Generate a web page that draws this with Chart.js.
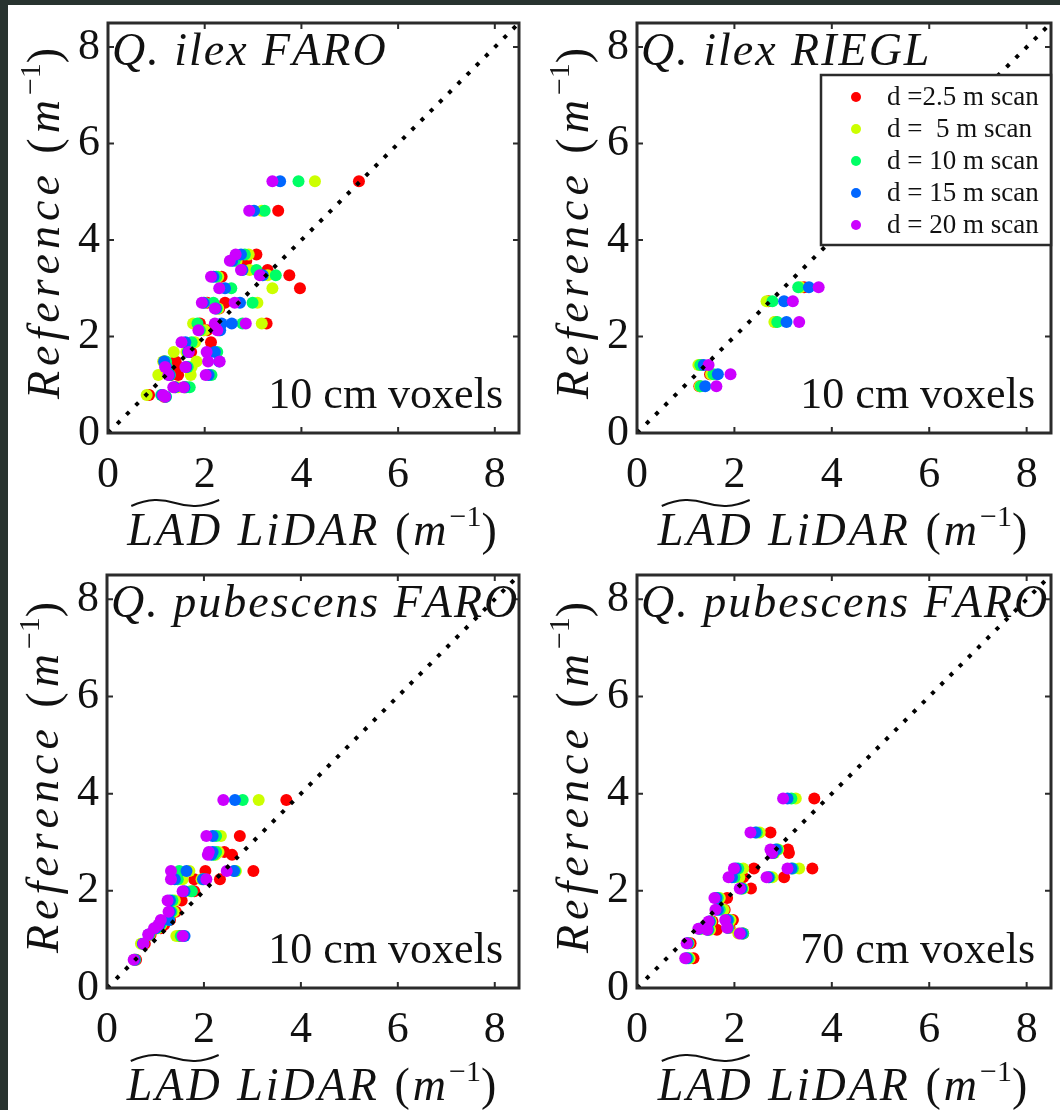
<!DOCTYPE html>
<html>
<head>
<meta charset="utf-8">
<title>LAD LiDAR vs reference</title>
<script src="https://cdn.jsdelivr.net/npm/chart.js@4.4.1/dist/chart.umd.min.js"></script>
<style>
  html, body { margin: 0; padding: 0; background: #fff; }
  body { width: 1060px; height: 1110px; position: relative; overflow: hidden; }
  .edge-left { position: absolute; left: 0; top: 0; width: 8px; height: 1110px; background: #28332f; }
  .edge-top { position: absolute; left: 0; top: 0; width: 1060px; height: 5px; background: #28332f; }
  canvas { position: absolute; }
</style>
</head>
<body>
<div class="edge-left"></div>
<div class="edge-top"></div>
<canvas id="ilexFaro" width="530" height="555" style="left:0;top:0"></canvas>
<canvas id="ilexRiegl" width="530" height="555" style="left:530px;top:0"></canvas>
<canvas id="pubFaro10" width="530" height="555" style="left:0;top:555px"></canvas>
<canvas id="pubFaro70" width="530" height="555" style="left:530px;top:555px"></canvas>

<script>
'use strict';

/* Data */

var tickValues = [0, 2, 4, 6, 8];
var axisMin = 0;
var axisMax = 8.5;
var oneToOne = [0, 8.5];

var scanLabels = ['d =2.5 m scan', 'd =  5 m scan', 'd = 10 m scan', 'd = 15 m scan', 'd = 20 m scan'];
var scanColors = ['#ff0000', '#ccff00', '#00ff66', '#0066ff', '#cc00ff'];

// Q. ilex FARO, 10 cm voxels
var ilexFaroRef = [5.22, 4.61, 3.70, 3.57, 3.38, 3.27, 3.24, 3.00, 2.70, 2.70, 2.58, 2.27, 2.27, 2.13, 2.13, 1.88, 1.68, 1.68, 1.48, 1.48, 1.37, 1.37, 1.20, 1.20, 0.95, 0.95, 0.79, 0.75];
var ilexFaroD2_5 = [5.19, 3.52, 3.07, 2.86, 3.30, 3.75, 2.35, 3.97, 2.42, 2.05, 2.30, 3.28, 1.90, 1.98, 2.05, 2.13, 1.72, 1.70, 1.40, 1.16, 1.45, 1.25, 1.45, 1.30, 1.40, 1.60, 0.85, 1.16];
var ilexFaroD5 = [4.28, 3.18, 2.91, 2.66, 2.93, 3.30, 2.28, 3.40, 3.09, 2.00, 2.28, 3.18, 1.76, 1.92, 2.00, 1.80, 1.36, 1.62, 1.83, 1.14, 1.73, 1.20, 1.71, 1.04, 1.45, 1.58, 0.80, 1.18];
var ilexFaroD10 = [3.94, 3.24, 2.83, 2.62, 3.07, 3.47, 2.24, 2.55, 2.99, 2.18, 2.25, 2.78, 1.85, 1.90, 2.28, 1.73, 2.26, 1.65, 1.20, 1.18, 1.65, 1.22, 2.14, 1.28, 1.69, 1.62, 1.10, 1.20];
var ilexFaroD15 = [3.56, 3.02, 2.75, 2.57, 2.78, 3.20, 2.18, 2.42, 2.73, 1.98, 2.23, 2.56, 2.35, 2.30, 2.32, 1.60, 2.21, 1.66, 2.30, 1.16, 1.62, 1.20, 2.08, 1.27, 1.38, 1.58, 1.12, 1.19];
var ilexFaroD20 = [3.40, 2.92, 2.64, 2.52, 2.75, 3.14, 2.13, 2.30, 2.62, 1.94, 2.21, 2.85, 2.21, 1.87, 2.26, 1.52, 2.04, 1.67, 2.31, 2.07, 1.60, 1.18, 2.02, 1.25, 1.35, 1.56, 1.14, 1.18];

// Q. ilex RIEGL, 10 cm voxels
var ilexRieglRef = [3.02, 2.73, 2.30, 1.41, 1.22, 0.97];
var ilexRieglD2_5 = [3.43, 2.70, 2.84, 1.30, 1.50, 1.28];
var ilexRieglD5 = [3.36, 2.66, 2.82, 1.26, 1.52, 1.29];
var ilexRieglD10 = [3.31, 2.78, 2.88, 1.30, 1.57, 1.31];
var ilexRieglD15 = [3.53, 3.02, 3.07, 1.37, 1.66, 1.40];
var ilexRieglD20 = [3.73, 3.20, 3.33, 1.47, 1.92, 1.63];

// Q. pubescens FARO, 10 cm voxels
var pubFaro10Ref = [3.87, 3.13, 2.80, 2.74, 2.41, 2.41, 2.24, 2.24, 1.99, 1.80, 1.57, 1.40, 1.30, 1.23, 1.10, 1.07, 0.91, 0.58];
var pubFaro10D2_5 = [3.70, 2.74, 2.42, 2.58, 3.02, 2.03, 2.33, 1.80, 1.80, 1.54, 1.42, 1.30, 1.18, 1.11, 0.90, 1.50, 0.78, 0.60];
var pubFaro10D5 = [3.13, 2.35, 2.30, 2.24, 2.66, 1.70, 1.56, 1.95, 1.72, 1.40, 1.38, 1.26, 1.12, 1.05, 0.88, 1.43, 0.70, 0.56];
var pubFaro10D10 = [2.80, 2.25, 2.25, 2.20, 2.64, 1.49, 1.46, 2.00, 1.75, 1.35, 1.33, 1.28, 1.10, 1.02, 0.87, 1.52, 0.75, 0.58];
var pubFaro10D15 = [2.64, 2.18, 2.18, 2.15, 2.62, 1.64, 1.40, 1.98, 1.60, 1.30, 1.30, 1.28, 1.08, 1.00, 0.86, 1.60, 0.74, 0.57];
var pubFaro10D20 = [2.40, 2.05, 2.10, 2.08, 2.47, 1.32, 1.32, 2.05, 1.56, 1.25, 1.27, 1.11, 1.06, 0.97, 0.85, 1.56, 0.75, 0.55];

// Q. pubescens FARO, 70 cm voxels
var pubFaro70Ref = [3.90, 3.20, 2.85, 2.78, 2.46, 2.46, 2.28, 2.28, 2.05, 1.85, 1.61, 1.40, 1.37, 1.24, 1.22, 1.20, 1.12, 0.92, 0.61];
var pubFaro70D2_5 = [3.64, 2.74, 3.10, 3.12, 3.60, 2.40, 2.18, 3.02, 2.34, 1.85, 1.80, 1.97, 1.55, 1.90, 1.40, 1.64, 2.18, 1.10, 1.16];
var pubFaro70D5 = [3.26, 2.52, 2.90, 2.82, 3.33, 2.18, 2.10, 2.78, 2.18, 1.70, 1.78, 1.92, 1.52, 1.88, 1.32, 1.50, 2.08, 1.06, 1.08];
var pubFaro70D10 = [3.17, 2.46, 2.88, 2.80, 3.20, 2.08, 2.00, 2.72, 2.16, 1.66, 1.70, 1.88, 1.50, 1.87, 1.30, 1.47, 2.18, 1.05, 1.05];
var pubFaro70D15 = [3.09, 2.43, 2.85, 2.79, 3.17, 2.03, 1.95, 2.70, 2.14, 1.63, 1.66, 1.86, 1.49, 1.86, 1.28, 1.45, 2.15, 1.04, 1.02];
var pubFaro70D20 = [3.00, 2.33, 2.74, 2.77, 3.09, 1.99, 1.88, 2.66, 2.11, 1.59, 1.61, 1.81, 1.47, 1.85, 1.26, 1.44, 2.11, 1.02, 0.99];

/* Drawing helpers */

var SERIF = '"Liberation Serif", serif';
var INK = '#111';

function titleParts(main) {
  return [
    {t: main, it: true},
    {t: ' (', it: false},
    {t: 'm', it: true},
    {t: '\u22121', sup: true},
    {t: ')', it: false}
  ];
}

// letter spacing done by hand, char by char
function spacedWidth(ctx, text, spacing) {
  var w = 0;
  for (var i = 0; i < text.length; i++) w += ctx.measureText(text[i]).width + spacing;
  return w;
}

function fillSpaced(ctx, text, x, y, spacing) {
  for (var i = 0; i < text.length; i++) {
    ctx.fillText(text[i], x, y);
    x += ctx.measureText(text[i]).width + spacing;
  }
  return x;
}

function setPartFont(ctx, p, size) {
  var s = p.sup ? Math.round(size * 0.66) : size;
  ctx.font = (p.it ? 'italic ' : '') + s + 'px ' + SERIF;
}

function partsWidth(ctx, parts, size, spacing) {
  var w = 0;
  parts.forEach(function(p) {
    setPartFont(ctx, p, size);
    w += spacedWidth(ctx, p.t, p.sup ? 0 : spacing);
  });
  return w;
}

function drawParts(ctx, parts, x, y, size, spacing) {
  parts.forEach(function(p) {
    setPartFont(ctx, p, size);
    x = fillSpaced(ctx, p.t, x, p.sup ? y - size * 0.42 : y, p.sup ? 0 : spacing);
  });
}

// the y title is set flat on its own canvas and turned as an image,
// rotated glyphs at this size came out in the wrong face
function flatTitle(parts, size, spacing) {
  var off = document.createElement('canvas');
  var octx = off.getContext('2d');
  var w = Math.ceil(partsWidth(octx, parts, size, spacing)) + 4;
  var base = size;
  off.width = w;
  off.height = Math.ceil(size * 1.4);
  octx.fillStyle = INK;
  octx.textAlign = 'left';
  octx.textBaseline = 'alphabetic';
  drawParts(octx, parts, 2, base, size, spacing);
  return {canvas: off, base: base};
}

function drawLegend(ctx, chart, a) {
  var bw = 230, bh = 170;
  var bx = a.right - bw, by = a.top + 52;
  ctx.fillStyle = '#fff';
  ctx.fillRect(bx, by, bw, bh);
  ctx.strokeStyle = '#2b2b2b';
  ctx.lineWidth = 2.5;
  ctx.strokeRect(bx, by, bw, bh);

  ctx.font = '27px ' + SERIF;
  ctx.textAlign = 'left';
  ctx.textBaseline = 'middle';
  chart.data.datasets.forEach(function(ds, i) {
    if (!ds.label) return;
    var cy = by + 22 + i * 32;
    ctx.fillStyle = ds.backgroundColor;
    ctx.beginPath();
    ctx.arc(bx + 35, cy, 5, 0, Math.PI * 2);
    ctx.fill();
    ctx.fillStyle = INK;
    ctx.fillText(ds.label, bx + 66, cy + 1);
  });
}

var panelDecor = {
  id: 'panelDecor',
  afterDraw: function(chart, args, opts) {
    var ctx = chart.ctx;
    var a = chart.chartArea;
    var xs = chart.scales.x, ys = chart.scales.y;

    ctx.save();

    // box and inward ticks
    ctx.strokeStyle = '#2b2b2b';
    ctx.lineWidth = 3;
    ctx.strokeRect(a.left, a.top, a.right - a.left, a.bottom - a.top);
    ctx.lineWidth = 2;
    ctx.beginPath();
    tickValues.forEach(function(v) {
      var px = xs.getPixelForValue(v), py = ys.getPixelForValue(v);
      ctx.moveTo(px, a.bottom); ctx.lineTo(px, a.bottom - 6);
      ctx.moveTo(px, a.top); ctx.lineTo(px, a.top + 6);
      ctx.moveTo(a.left, py); ctx.lineTo(a.left + 6, py);
      ctx.moveTo(a.right, py); ctx.lineTo(a.right - 6, py);
    });
    ctx.stroke();

    ctx.fillStyle = INK;
    ctx.textBaseline = 'alphabetic';
    ctx.textAlign = 'left';

    // panel title, top left
    ctx.font = 'italic 46px ' + SERIF;
    fillSpaced(ctx, opts.title, a.left + 4, a.top + 42, 2);

    // voxel size, bottom right
    ctx.textAlign = 'right';
    ctx.font = '44px ' + SERIF;
    ctx.fillText(opts.voxels, a.right - 16, a.bottom - 25);
    ctx.textAlign = 'left';

    // y axis title
    var yt = flatTitle(titleParts('Reference'), 46, 5);
    ctx.save();
    ctx.translate(Math.round(a.left - 49), Math.round((a.top + a.bottom) / 2 - 8));
    ctx.rotate(-Math.PI / 2);
    ctx.drawImage(yt.canvas, -Math.round(yt.canvas.width / 2), -yt.base);
    ctx.restore();

    // x axis title with wide tilde over LAD
    var xParts = titleParts('LAD LiDAR');
    var xw = partsWidth(ctx, xParts, 46, 3);
    var x0 = (a.left + a.right) / 2 - xw / 2;
    var base = a.bottom + 112;
    drawParts(ctx, xParts, x0, base, 46, 3);
    ctx.font = 'italic 46px ' + SERIF;
    var lw = spacedWidth(ctx, 'LAD', 3);
    var tx = x0 + 4, ty = base - 42, tw = lw - 8;
    ctx.lineWidth = 2;
    ctx.strokeStyle = INK;
    ctx.beginPath();
    ctx.moveTo(tx, ty + 3);
    ctx.bezierCurveTo(tx + tw * 0.2, ty - 5, tx + tw * 0.35, ty - 4, tx + tw * 0.5, ty);
    ctx.bezierCurveTo(tx + tw * 0.65, ty + 4, tx + tw * 0.8, ty + 5, tx + tw, ty - 3);
    ctx.stroke();

    if (opts.legend) drawLegend(ctx, chart, a);

    ctx.restore();
  }
};

function axisOptions(isY, yWidth) {
  return {
    type: 'linear',
    min: axisMin,
    max: axisMax,
    grid: {display: false, drawTicks: false},
    border: {display: false},
    ticks: {
      font: {family: SERIF, size: 44, lineHeight: 1},
      color: INK,
      padding: isY ? 8 : 20,
      maxRotation: 0,
      autoSkip: false
    },
    afterBuildTicks: function(scale) {
      scale.ticks = tickValues.map(function(v) { return {value: v}; });
    },
    afterFit: function(scale) {
      if (isY) {
        scale.width = yWidth;
        scale.paddingTop = 0;
        scale.paddingBottom = 0;
      } else {
        scale.height = 122;
        scale.paddingLeft = 0;
        scale.paddingRight = 0;
      }
    }
  };
}

function makePanel(id, panel) {
  var datasets = scanLabels.map(function(label, s) {
    return {
      label: label,
      data: panel.ref.map(function(r, i) { return {x: panel.scans[s][i], y: r}; }),
      backgroundColor: scanColors[s],
      borderWidth: 0,
      pointRadius: 6,
      pointHoverRadius: 6,
      order: 5 - s
    };
  });

  datasets.push({
    data: oneToOne.map(function(v) { return {x: v, y: v}; }),
    showLine: true,
    borderColor: '#000',
    borderWidth: 4,
    borderDash: [4, 9],
    pointRadius: 0,
    order: 0
  });

  var ctx = document.getElementById(id).getContext('2d');
  return new Chart(ctx, {
    type: 'scatter',
    data: {datasets: datasets},
    options: {
      responsive: false,
      animation: false,
      events: [],
      layout: {padding: {left: 0, top: panel.top, right: panel.right, bottom: 0}},
      plugins: {
        legend: {display: false},
        tooltip: {enabled: false},
        panelDecor: {title: panel.title, voxels: panel.voxels, legend: panel.legend}
      },
      scales: {
        x: axisOptions(false),
        y: axisOptions(true, panel.yWidth)
      }
    },
    plugins: [panelDecor]
  });
}

makePanel('ilexFaro', {
  title: 'Q. ilex FARO', voxels: '10 cm voxels', legend: false,
  ref: ilexFaroRef,
  scans: [ilexFaroD2_5, ilexFaroD5, ilexFaroD10, ilexFaroD15, ilexFaroD20],
  yWidth: 108, top: 23, right: 11
});

makePanel('ilexRiegl', {
  title: 'Q. ilex RIEGL', voxels: '10 cm voxels', legend: true,
  ref: ilexRieglRef,
  scans: [ilexRieglD2_5, ilexRieglD5, ilexRieglD10, ilexRieglD15, ilexRieglD20],
  yWidth: 107, top: 23, right: 9
});

makePanel('pubFaro10', {
  title: 'Q. pubescens FARO', voxels: '10 cm voxels', legend: false,
  ref: pubFaro10Ref,
  scans: [pubFaro10D2_5, pubFaro10D5, pubFaro10D10, pubFaro10D15, pubFaro10D20],
  yWidth: 107, top: 20, right: 11
});

makePanel('pubFaro70', {
  title: 'Q. pubescens FARO', voxels: '70 cm voxels', legend: false,
  ref: pubFaro70Ref,
  scans: [pubFaro70D2_5, pubFaro70D5, pubFaro70D10, pubFaro70D15, pubFaro70D20],
  yWidth: 107, top: 20, right: 9
});
</script>
</body>
</html>
